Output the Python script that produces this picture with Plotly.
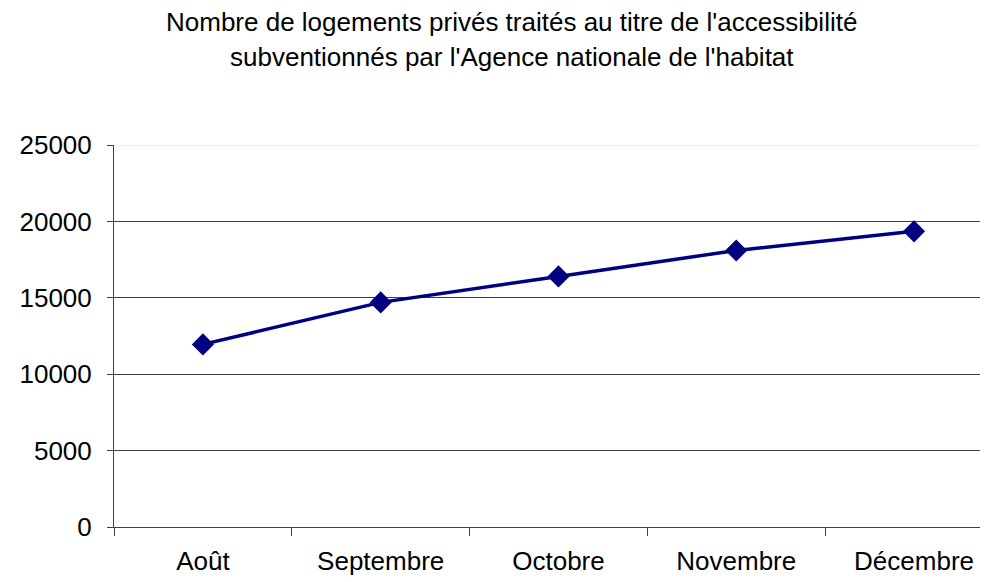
import plotly.graph_objects as go

mois = ["Août", "Septembre", "Octobre", "Novembre", "Décembre"]
logements = [11950, 14700, 16400, 18100, 19350]
y_ticks = [0, 5000, 10000, 15000, 20000, 25000]
y_labels = ["0", "5000", "10000", "15000", "20000", "25000"]

titre_1 = "Nombre de logements privés traités au titre de l'accessibilité"
titre_2 = "subventionnés par l'Agence nationale de l'habitat"

fig = go.Figure()
fig.add_trace(go.Scatter(
    x=mois, y=logements, mode="lines+markers",
    line=dict(color="#000080", width=3.5),
    marker=dict(symbol="diamond", size=17, color="#000080"),
    showlegend=False,
))

# the page body adds an 8px margin, so the figure is shifted by 8px
fig.update_layout(
    width=980, height=574,
    margin=dict(l=106, r=0, t=137, b=55),
    paper_bgcolor="white", plot_bgcolor="white",
    font=dict(family="Liberation Sans, Arial, sans-serif", color="black"),
    xaxis=dict(
        type="category", range=[-0.5, 4.416], automargin=False,
        tickson="boundaries", ticks="outside", ticklen=8, tickcolor="#404040",
        showline=True, linecolor="#404040", linewidth=1,
        showgrid=False, tickfont=dict(size=26), ticklabelstandoff=11,
    ),
    yaxis=dict(
        range=[0, 25000], tickvals=y_ticks, ticktext=y_labels, automargin=False,
        ticks="outside", ticklen=6, tickcolor="#404040",
        showline=True, linecolor="#404040", linewidth=1,
        showgrid=True, gridcolor="#404040", gridwidth=1,
        zeroline=False, tickfont=dict(size=26), ticklabelstandoff=10,
    ),
    shapes=[dict(type="line", xref="paper", yref="y", x0=0, x1=1,
                 y0=25000, y1=25000, line=dict(color="#eeeeee", width=2),
                 layer="above")],
    annotations=[
        dict(text=titre_1, xref="paper", yref="paper", x=0.455, y=1.0 + 123 / 382,
             xanchor="center", yanchor="middle", showarrow=False,
             font=dict(size=26)),
        dict(text=titre_2, xref="paper", yref="paper", x=0.455, y=1.0 + 88 / 382,
             xanchor="center", yanchor="middle", showarrow=False,
             font=dict(size=26)),
    ],
)

fig.write_html("out.html")
